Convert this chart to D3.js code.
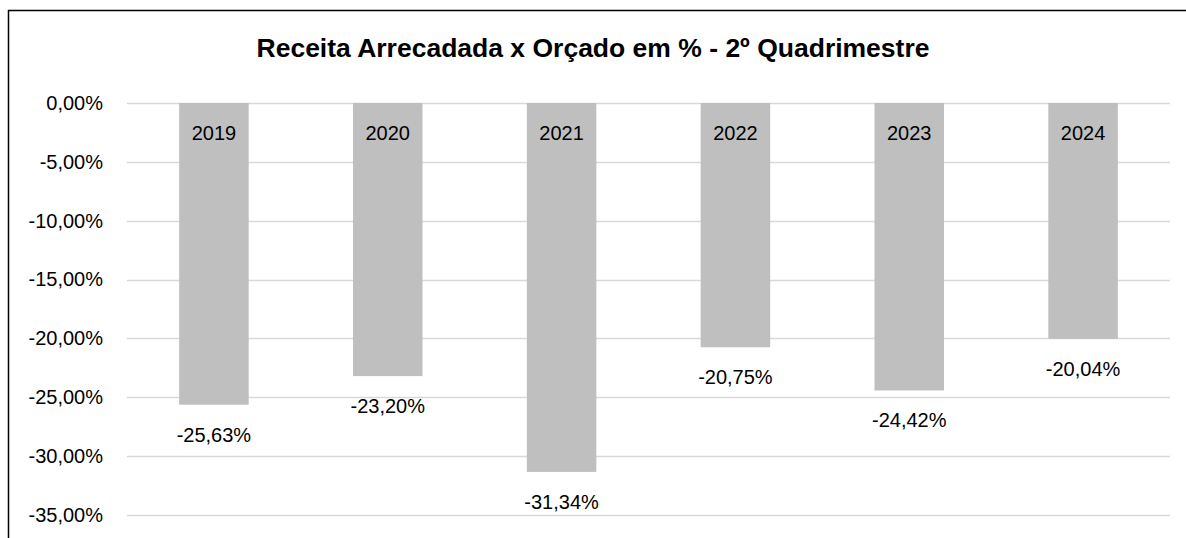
<!DOCTYPE html>
<html>
<head>
<meta charset="utf-8">
<script src="https://cdn.jsdelivr.net/npm/d3@7"></script>
<style>
    body { margin: 0; background: #fff; }
    svg { display: block; font-family: "Liberation Sans", Arial, sans-serif; }
</style>
</head>
<body>
<svg id="chart"></svg>
<script>
const years = ["2019", "2020", "2021", "2022", "2023", "2024"];
const values = [-25.63, -23.20, -31.34, -20.75, -24.42, -20.04];
const yTicks = [0, -5, -10, -15, -20, -25, -30, -35];

const width = 1186;
const height = 538;
const margin = {top: 103, right: 16, bottom: 23, left: 127};

const svg = d3.select("#chart")
    .attr("width", width)
    .attr("height", height);

// Frame of the chart area (right and bottom edges fall outside the picture)
svg.append("path")
    .attr("d", `M8.5,${height + 5}V10.5H${width + 5}`)
    .attr("fill", "none")
    .attr("stroke", "#000")
    .attr("stroke-width", 1.5);

svg.append("text")
    .attr("x", width / 2)
    .attr("y", 57)
    .attr("text-anchor", "middle")
    .attr("font-size", 26.5)
    .attr("font-weight", "bold")
    .attr("fill", "#000")
    .text("Receita Arrecadada x Orçado em % - 2º Quadrimestre");

const x = d3.scaleBand()
    .domain(years)
    .range([margin.left, width - margin.right])
    .paddingInner(0.6)
    .paddingOuter(0.3);

const y = d3.scaleLinear()
    .domain([0, -35])
    .range([margin.top, height - margin.bottom]);

const fmt = v => v.toFixed(2).replace(".", ",") + "%";

// Gridlines
svg.append("g")
    .selectAll("line")
    .data(yTicks)
    .join("line")
    .attr("x1", margin.left)
    .attr("x2", width - margin.right)
    .attr("y1", d => Math.round(y(d)) + 0.5)
    .attr("y2", d => Math.round(y(d)) + 0.5)
    .attr("stroke", "#d9d9d9")
    .attr("stroke-width", 1.5);

// Y axis labels
const yAxis = svg.append("g")
    .attr("transform", `translate(${margin.left - 24},0)`)
    .call(d3.axisLeft(y).tickValues(yTicks).tickSize(0).tickPadding(0).tickFormat(fmt));
yAxis.select(".domain").remove();
yAxis.selectAll("text")
    .attr("font-family", "Liberation Sans, Arial, sans-serif")
    .attr("font-size", 20)
    .attr("fill", "#000");

// Bars
svg.append("g")
    .selectAll("rect")
    .data(values)
    .join("rect")
    .attr("x", (d, i) => x(years[i]))
    .attr("y", y(0))
    .attr("width", x.bandwidth())
    .attr("height", d => y(d) - y(0))
    .attr("fill", "#bfbfbf");

// Category labels inside top of bars
svg.append("g")
    .selectAll("text")
    .data(years)
    .join("text")
    .attr("x", d => x(d) + x.bandwidth() / 2)
    .attr("y", 140)
    .attr("text-anchor", "middle")
    .attr("font-size", 20)
    .attr("fill", "#000")
    .text(d => d);

// Value labels under bar ends
svg.append("g")
    .selectAll("text")
    .data(values)
    .join("text")
    .attr("x", (d, i) => x(years[i]) + x.bandwidth() / 2)
    .attr("y", d => y(d) + 37)
    .attr("text-anchor", "middle")
    .attr("font-size", 20)
    .attr("fill", "#000")
    .text(fmt);
</script>
</body>
</html>
